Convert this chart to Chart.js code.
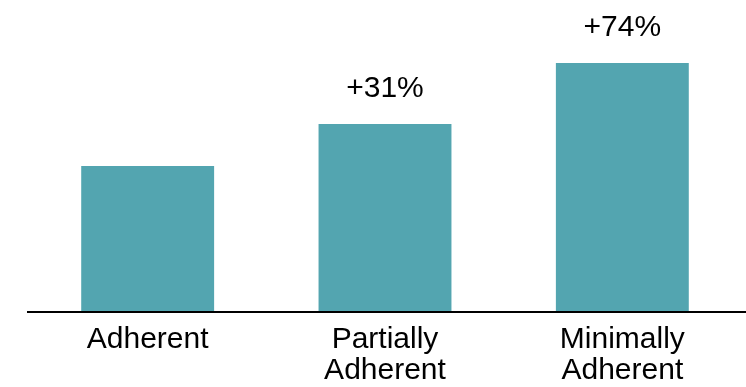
<!DOCTYPE html>
<html>
<head>
<meta charset="utf-8">
<script src="https://cdn.jsdelivr.net/npm/chart.js@4"></script>
<style>
  html, body { margin: 0; padding: 0; background: #fff; }
  #wrap { width: 746px; height: 387px; }
</style>
</head>
<body>
<div id="wrap"><canvas id="adherenceChart" width="746" height="387"></canvas></div>
<script>
// 数据
const categories = [["Adherent"], ["Partially", "Adherent"], ["Minimally", "Adherent"]];
const values = [100, 129, 171];
const valueLabels = ["", "+31%", "+74%"];

const FONT = "'Liberation Sans', Arial, sans-serif";
const BAR_COLOR = "#53a5b0";

// 柱顶百分比 + 底部轴线
const labelPlugin = {
    id: "labelPlugin",
    afterDatasetsDraw(chart) {
        const ctx = chart.ctx;
        const meta = chart.getDatasetMeta(0);
        ctx.save();
        ctx.fillStyle = "#000";
        ctx.font = "30px " + FONT;
        ctx.textAlign = "center";
        ctx.textBaseline = "alphabetic";
        meta.data.forEach((bar, i) => {
            if (valueLabels[i]) ctx.fillText(valueLabels[i], bar.x, bar.y - 27);
        });
        // 轴线
        const y = chart.chartArea.bottom + 1;
        ctx.strokeStyle = "#000";
        ctx.lineWidth = 2;
        ctx.beginPath();
        ctx.moveTo(27, y);
        ctx.lineTo(chart.width, y);
        ctx.stroke();
        ctx.restore();
    }
};

new Chart(document.getElementById("adherenceChart"), {
    type: "bar",
    data: {
        labels: categories,
        datasets: [{
            data: values,
            backgroundColor: BAR_COLOR,
            borderWidth: 0,
            categoryPercentage: 1,
            barPercentage: 0.56
        }]
    },
    options: {
        responsive: false,
        animation: false,
        layout: { padding: { left: 29, right: 5, top: 0, bottom: 0 } },
        plugins: {
            legend: { display: false },
            tooltip: { enabled: false }
        },
        scales: {
            x: {
                grid: { display: false, drawTicks: false },
                border: { display: false },
                ticks: {
                    color: "#000",
                    padding: 13,
                    autoSkip: false,
                    maxRotation: 0,
                    font: { family: FONT, size: 30, lineHeight: 1.04 }
                },
                afterFit(scale) { scale.height = 76; }
            },
            y: {
                display: false,
                min: 0,
                max: 214.5
            }
        }
    },
    plugins: [labelPlugin]
});
</script>
</body>
</html>
